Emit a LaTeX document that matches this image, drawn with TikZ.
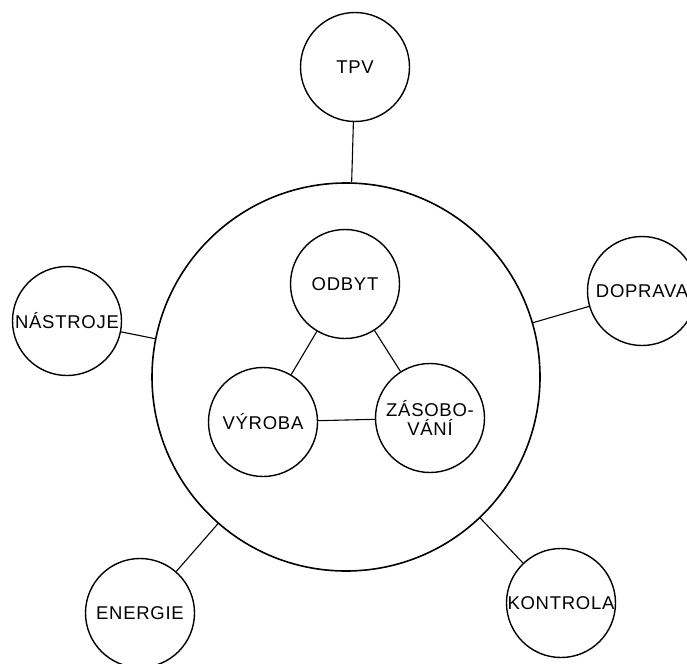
\documentclass[tikz,border=0pt]{standalone}
\usepackage{fontspec}
\setmainfont{Liberation Sans}[LetterSpace=4]
\usetikzlibrary{positioning}

\begin{document}
\begin{tikzpicture}[x=1pt, y=-1pt,
    font=\fontsize{18.5}{19}\selectfont,
    unit/.style={draw, circle, line width=1.4pt, inner sep=0pt,
                 minimum size=109pt, align=center},
    hub/.style={draw, circle, line width=1.6pt, inner sep=0pt,
                minimum size=388pt},
    link/.style={line width=1.1pt}]

    \useasboundingbox (0,0) rectangle (687,663);

    % podnik a jeho jadro
    \node[hub]  (podnik)   at (346,377) {};
    \node[unit] (odbyt)    at (345,284) {ODBYT};
    \node[unit] (vyroba)   at (263,422) {VÝROBA};
    \node[unit] (zasob)    at (430,418) {ZÁSOBO-\\VÁNÍ};

    % okoli
    \node[unit] (tpv)      at (355,67)  {TPV};
    \node[unit] (doprava)  at (642,291) {DOPRAVA};
    \node[unit] (nastroje) at (67,321)  {NÁSTROJE};
    \node[unit] (energie)  at (140,613) {ENERGIE};
    \node[unit] (kontrola) at (561,603) {KONTROLA};

    \draw[link] (odbyt) -- (vyroba);
    \draw[link] (odbyt) -- (zasob);
    \draw[link] (vyroba) -- (zasob);

    \draw[link] (tpv) -- (podnik);
    \draw[link] (doprava) -- (podnik);
    \draw[link] (nastroje) -- (podnik);
    \draw[link] (energie) -- (podnik);
    \draw[link] (kontrola) -- (podnik);
  \end{tikzpicture}
\end{document}
